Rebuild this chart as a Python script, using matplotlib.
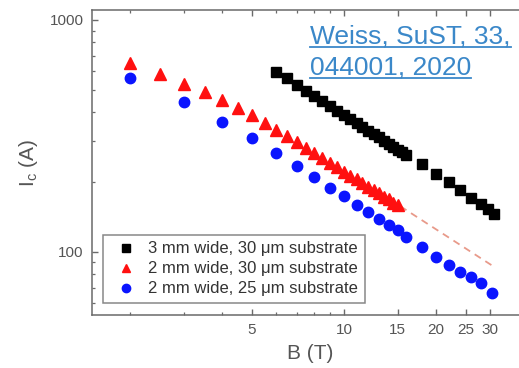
import matplotlib
matplotlib.use("Agg")
import matplotlib.pyplot as plt
from matplotlib.ticker import FixedLocator, NullFormatter
from matplotlib.lines import Line2D

plt.rcParams['font.family'] = ['Liberation Sans', 'DejaVu Sans']
plt.rcParams['mathtext.fontset'] = 'custom'
plt.rcParams['mathtext.rm'] = 'Liberation Sans'

# 3 mm wide, 30 um substrate
b_black = [6, 6.5, 7, 7.5, 8, 8.5, 9, 9.5, 10, 10.5, 11, 11.5, 12, 12.5, 13,
           13.5, 14, 14.5, 15, 15.5, 16, 18, 20, 22, 24, 26, 28, 29.5, 31]
ic_black = [598, 559, 525, 495, 469, 446, 425, 406, 388, 373, 358, 345, 333, 322, 311,
            301, 292, 284, 276, 268, 261, 238, 217, 200, 185, 171, 161, 153, 146]

# 2 mm wide, 30 um substrate
b_red = [2, 2.5, 3, 3.5, 4, 4.5, 5, 5.5, 6, 6.5, 7, 7.5, 8, 8.5, 9, 9.5, 10,
         10.5, 11, 11.5, 12, 12.5, 13, 13.5, 14, 14.5, 15]
ic_red = [650, 585, 530, 488, 452, 416, 387, 359, 336, 315, 296, 280, 266, 253, 241, 231, 221,
          213, 205, 197, 191, 184, 179, 173, 168, 163, 159]

# extrapolation of the red series
b_fit = [15.3, 31]
ic_fit = [157, 86]

# 2 mm wide, 25 um substrate
b_blue = [2, 3, 4, 5, 6, 7, 8, 9, 10, 11, 12, 13, 14, 15, 16, 18, 20, 22, 24, 26, 28, 30.5]
ic_blue = [564, 444, 364, 309, 266, 235, 211, 189, 174, 159, 149, 139, 130, 124, 116,
           105, 95, 88, 82, 78, 73, 66]

labels = ["3 mm wide, 30 \u03bcm substrate",
          "2 mm wide, 30 \u03bcm substrate",
          "2 mm wide, 25 \u03bcm substrate"]
x_major = [5, 10, 15, 20, 25, 30]
x_minor = [2, 3, 4, 6, 7, 8, 9]
y_major = [100, 1000]
y_minor = [60, 70, 80, 90, 200, 300, 400, 500, 600, 700, 800, 900]

W, H = 519, 368
fig = plt.figure(figsize=(W / 100, H / 100), dpi=100)
ax = fig.add_axes([92 / W, 1 - 315 / H, 436 / W, 305 / H])
ax.set_xscale('log')
ax.set_yscale('log')
ax.set_xlim(1.5, 40)
ax.set_ylim(53.3, 1104)

ax.plot(b_fit, ic_fit, '--', color='#e89a8a', lw=1.3, dashes=(4, 3))
h1, = ax.plot(b_black, ic_black, 's', color='black', ms=7, mec='black', ls='none')
h2, = ax.plot(b_red, ic_red, '^', color='#ff1010', ms=8, mec='#ff1010', ls='none')
h3, = ax.plot(b_blue, ic_blue, 'o', color='#0a14ff', ms=7.5, mec='#0a14ff', ls='none')

grey = '#555555'
for s in ax.spines.values():
    s.set_color('#6a6a6a')
    s.set_linewidth(1.1)

ax.xaxis.set_major_locator(FixedLocator(x_major))
ax.xaxis.set_minor_locator(FixedLocator(x_minor))
ax.set_xticklabels([str(v) for v in x_major])
ax.xaxis.set_minor_formatter(NullFormatter())
ax.yaxis.set_major_locator(FixedLocator(y_major))
ax.yaxis.set_minor_locator(FixedLocator(y_minor))
ax.set_yticklabels([str(v) for v in y_major])
ax.yaxis.set_minor_formatter(NullFormatter())
ax.tick_params(which='both', direction='in', top=True, right=False, colors='#6a6a6a',
               labelcolor=grey, labelsize=11, pad=6)
ax.tick_params(which='major', length=4, width=1)
ax.tick_params(which='minor', length=2.5, width=0.9)

ax.set_xlabel("B (T)", fontsize=15, color=grey, labelpad=5)
ax.set_ylabel("I$_\\mathrm{c}$ (A)", fontsize=15, color=grey, labelpad=7)

leg = ax.legend([h1, h2, h3], labels, loc='lower left',
                bbox_to_anchor=(103 / W, 1 - 303 / H), bbox_transform=fig.transFigure,
                fontsize=12, frameon=True, fancybox=False, borderaxespad=0,
                handlelength=2.0, handletextpad=0.32, labelspacing=0.3,
                borderpad=0.4, markerscale=0.8)
leg.get_frame().set_edgecolor('#6a6a6a')
leg.get_frame().set_linewidth(1.1)
for t in leg.get_texts():
    t.set_color('#333333')

# reference text, drawn as an underlined link
link = '#3b88c9'
t1 = fig.text(310 / W, 1 - 43.5 / H, "Weiss, SuST, 33,", fontsize=19, color=link, va='baseline')
t2 = fig.text(310 / W, 1 - 74.5 / H, "044001, 2020", fontsize=19, color=link, va='baseline')
fig.canvas.draw()
r = fig.canvas.get_renderer()
for t, y in [(t1, 46.8), (t2, 78.0)]:
    bb = t.get_window_extent(r)
    fig.add_artist(Line2D([bb.x0 / W, bb.x1 / W], [1 - y / H, 1 - y / H],
                          transform=fig.transFigure, color=link, lw=1.3))

fig.savefig("out.png", dpi=100)
